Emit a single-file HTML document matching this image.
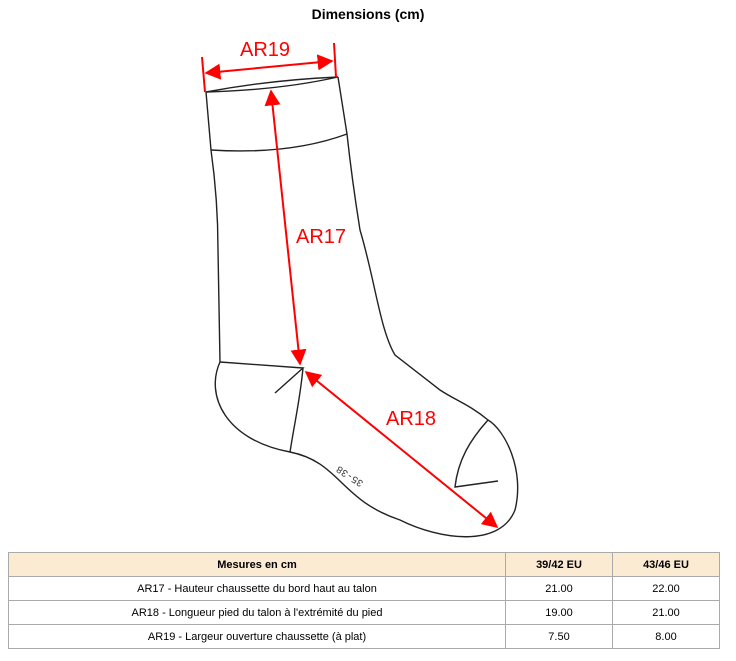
<!DOCTYPE html>
<html><head><meta charset="utf-8"><style>
body{margin:0;width:736px;height:661px;background:#fff;font-family:"Liberation Sans",sans-serif;position:relative;overflow:hidden}
.t{position:absolute;top:6px;left:0;width:736px;text-align:center;font-weight:bold;font-size:14px}
table{position:absolute;left:8px;top:552px;width:712px;border-collapse:collapse;font-size:11px}
td{border:1px solid #aaa;height:23px;text-align:center;padding:0}
tr:first-child td{background:#fcebd3;font-weight:bold}
</style></head><body>
<div class="t">Dimensions (cm)</div>
<svg width="736" height="552" style="position:absolute;left:0;top:0">
<defs><marker id="a" viewBox="0 0 10 10" refX="9" refY="5" markerWidth="8" markerHeight="8" markerUnits="strokeWidth" orient="auto-start-reverse"><path d="M0,0L10,5L0,10z" fill="#f00"/></marker></defs>
<g fill="none" stroke="#222" stroke-width="1.4">
<path d="M206,92 Q270,80 338,77 Q280,90 206,92z"/>
<path d="M211,150 Q290,155 347,134"/>
<path d="M206,92 L211,150 Q218,200 218,250 L220,362 C205,395 225,440 290,452 C340,462 340,500 400,520 C440,540 500,548 515,510 C525,470 505,430 488,420 C470,405 455,400 440,390 L395,355 C380,330 375,280 360,230 Q352,180 347,134 L338,77"/>
<path d="M220,362 L303,368 L275,393 M303,368 C300,400 295,420 290,452"/>
<path d="M488,420 C470,440 458,460 455,487 L498,481"/>
</g>
<g stroke="#f00" stroke-width="2" fill="none">
<line x1="202" y1="57" x2="205" y2="92"/><line x1="334" y1="43" x2="336" y2="77"/>
<line x1="206" y1="73" x2="332" y2="61" marker-start="url(#a)" marker-end="url(#a)"/>
<line x1="271" y1="91" x2="300" y2="364" marker-start="url(#a)" marker-end="url(#a)"/>
<line x1="306" y1="372" x2="497" y2="527" marker-start="url(#a)" marker-end="url(#a)"/>
</g>
<g fill="#f00" font-size="20" font-family="Liberation Sans,sans-serif">
<text x="240" y="56">AR19</text><text x="296" y="243">AR17</text><text x="386" y="425">AR18</text>
</g>
<text x="0" y="0" font-size="10" fill="#333" font-family="Liberation Mono,monospace" transform="translate(364,482) rotate(213)">35-38</text>
</svg>
<table>
<tr><td style="width:496px">Mesures en cm</td><td style="width:106px">39/42 EU</td><td>43/46 EU</td></tr>
<tr><td>AR17 - Hauteur chaussette du bord haut au talon</td><td>21.00</td><td>22.00</td></tr>
<tr><td>AR18 - Longueur pied du talon à l'extrémité du pied</td><td>19.00</td><td>21.00</td></tr>
<tr><td>AR19 - Largeur ouverture chaussette (à plat)</td><td>7.50</td><td>8.00</td></tr>
</table>
</body></html>
